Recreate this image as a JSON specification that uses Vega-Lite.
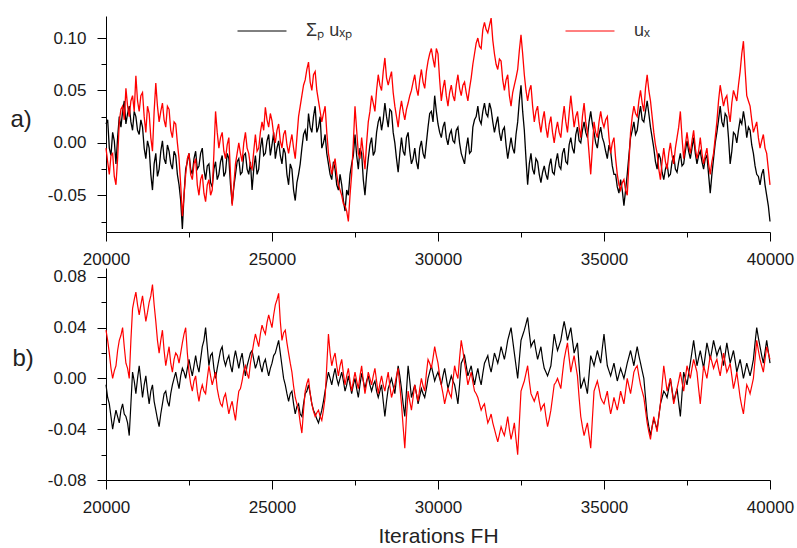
{
"$schema": "https://vega.github.io/schema/vega-lite/v6.json",
"background": "white",
"padding": {"left": 10, "top": 6, "right": 3, "bottom": 2},
"bounds": "flush",
"spacing": 36,
"config": {
  "view": {"stroke": null},
  "font": "Liberation Sans",
  "axis": {"domainColor": "#000000", "tickColor": "#000000", "labelColor": "#1a1a1a", "labelFontSize": 17, "labelFont": "Liberation Sans", "domainWidth": 1, "tickWidth": 1, "grid": false, "titleFont": "Liberation Sans", "titleFontWeight": "normal", "titleColor": "#222222"}
},
"datasets": {
"a": [
{"x":20000,"k":0.018,"r":-0.005},{"x":20100,"k":-0.005,"r":-0.030},{"x":20200,"k":0.010,"r":-0.010},{"x":20300,"k":-0.020,"r":-0.040},{"x":20400,"k":0.025,"r":0.020},{"x":20500,"k":0.030,"r":0.035},{"x":20600,"k":0.018,"r":0.052},{"x":20700,"k":0.035,"r":0.025},{"x":20800,"k":0.012,"r":0.045},{"x":20900,"k":0.025,"r":0.064},
{"x":21000,"k":0.008,"r":0.030},{"x":21100,"k":0.015,"r":0.048},{"x":21200,"k":-0.015,"r":0.010},{"x":21300,"k":-0.005,"r":0.028},{"x":21400,"k":-0.045,"r":-0.008},{"x":21500,"k":-0.010,"r":0.057},{"x":21600,"k":-0.025,"r":0.020},{"x":21700,"k":0.002,"r":0.038},{"x":21800,"k":-0.020,"r":0.015},{"x":21900,"k":-0.008,"r":0.032},
{"x":22000,"k":-0.025,"r":0.005},{"x":22100,"k":-0.012,"r":0.018},{"x":22200,"k":-0.040,"r":-0.015},{"x":22300,"k":-0.082,"r":-0.070},{"x":22400,"k":-0.025,"r":-0.030},{"x":22500,"k":-0.010,"r":-0.010},{"x":22600,"k":-0.030,"r":-0.035},{"x":22700,"k":-0.008,"r":-0.015},{"x":22800,"k":-0.022,"r":-0.050},{"x":22900,"k":-0.005,"r":-0.030},
{"x":23000,"k":-0.035,"r":-0.056},{"x":23100,"k":-0.020,"r":-0.035},{"x":23200,"k":-0.042,"r":-0.045},{"x":23300,"k":-0.018,"r":0.030},{"x":23400,"k":-0.030,"r":-0.005},{"x":23500,"k":-0.012,"r":0.010},{"x":23600,"k":-0.028,"r":-0.015},{"x":23700,"k":-0.015,"r":0.005},{"x":23800,"k":-0.058,"r":-0.060},{"x":23900,"k":-0.030,"r":-0.020},
{"x":24000,"k":-0.015,"r":0.000},{"x":24100,"k":-0.028,"r":-0.018},{"x":24200,"k":-0.010,"r":0.010},{"x":24300,"k":-0.030,"r":-0.010},{"x":24400,"k":-0.045,"r":-0.025},{"x":24500,"k":-0.012,"r":0.008},{"x":24600,"k":-0.025,"r":-0.005},{"x":24700,"k":0.005,"r":0.020},{"x":24800,"k":-0.010,"r":0.034},{"x":24900,"k":0.008,"r":0.015},
{"x":25000,"k":-0.002,"r":0.021},{"x":25100,"k":-0.015,"r":0.000},{"x":25200,"k":0.002,"r":0.018},{"x":25300,"k":-0.020,"r":-0.005},{"x":25400,"k":-0.010,"r":0.012},{"x":25500,"k":-0.040,"r":-0.010},{"x":25600,"k":-0.025,"r":0.008},{"x":25700,"k":-0.055,"r":-0.015},{"x":25800,"k":-0.030,"r":0.025},{"x":25900,"k":-0.005,"r":0.045},
{"x":26000,"k":0.012,"r":0.060},{"x":26100,"k":0.028,"r":0.077},{"x":26200,"k":0.010,"r":0.050},{"x":26300,"k":0.035,"r":0.068},{"x":26400,"k":0.015,"r":0.040},{"x":26500,"k":-0.005,"r":0.020},{"x":26600,"k":0.008,"r":0.035},{"x":26700,"k":-0.020,"r":-0.010},{"x":26800,"k":-0.035,"r":-0.030},{"x":26900,"k":-0.025,"r":-0.015},
{"x":27000,"k":-0.045,"r":-0.040},{"x":27100,"k":-0.040,"r":-0.050},{"x":27200,"k":-0.065,"r":-0.060},{"x":27300,"k":-0.050,"r":-0.075},{"x":27400,"k":-0.020,"r":-0.030},{"x":27500,"k":0.008,"r":0.035},{"x":27600,"k":-0.025,"r":-0.010},{"x":27700,"k":-0.010,"r":0.005},{"x":27800,"k":-0.050,"r":-0.025},{"x":27900,"k":-0.015,"r":0.020},
{"x":28000,"k":0.005,"r":0.045},{"x":28100,"k":-0.008,"r":0.030},{"x":28200,"k":0.020,"r":0.065},{"x":28300,"k":0.012,"r":0.050},{"x":28400,"k":0.038,"r":0.081},{"x":28500,"k":0.015,"r":0.055},{"x":28600,"k":0.030,"r":0.068},{"x":28700,"k":0.000,"r":0.035},{"x":28800,"k":-0.028,"r":0.015},{"x":28900,"k":0.005,"r":0.040},
{"x":29000,"k":-0.012,"r":0.022},{"x":29100,"k":0.010,"r":0.038},{"x":29200,"k":-0.020,"r":0.050},{"x":29300,"k":-0.005,"r":0.065},{"x":29400,"k":-0.025,"r":0.045},{"x":29500,"k":0.002,"r":0.070},{"x":29600,"k":-0.015,"r":0.052},{"x":29700,"k":0.015,"r":0.078},{"x":29800,"k":0.030,"r":0.090},{"x":29900,"k":0.045,"r":0.072},
{"x":30000,"k":0.018,"r":0.085},{"x":30100,"k":0.005,"r":0.040},{"x":30200,"k":0.020,"r":0.060},{"x":30300,"k":-0.002,"r":0.035},{"x":30400,"k":0.012,"r":0.055},{"x":30500,"k":0.000,"r":0.040},{"x":30600,"k":0.015,"r":0.065},{"x":30700,"k":-0.010,"r":0.045},{"x":30800,"k":-0.020,"r":0.058},{"x":30900,"k":0.005,"r":0.040},
{"x":31000,"k":-0.008,"r":0.062},{"x":31100,"k":0.022,"r":0.085},{"x":31200,"k":0.035,"r":0.100},{"x":31300,"k":0.018,"r":0.090},{"x":31400,"k":0.038,"r":0.115},{"x":31500,"k":0.025,"r":0.105},{"x":31600,"k":0.032,"r":0.119},{"x":31700,"k":0.010,"r":0.085},{"x":31800,"k":0.025,"r":0.070},{"x":31900,"k":0.002,"r":0.078},
{"x":32000,"k":0.015,"r":0.050},{"x":32100,"k":-0.015,"r":0.065},{"x":32200,"k":0.005,"r":0.035},{"x":32300,"k":-0.010,"r":0.055},{"x":32400,"k":0.020,"r":0.070},{"x":32500,"k":0.055,"r":0.103},{"x":32600,"k":0.012,"r":0.065},{"x":32700,"k":-0.040,"r":0.040},{"x":32800,"k":-0.010,"r":0.055},{"x":32900,"k":-0.030,"r":0.020},
{"x":33000,"k":-0.018,"r":0.035},{"x":33100,"k":-0.038,"r":0.010},{"x":33200,"k":-0.022,"r":0.030},{"x":33300,"k":-0.035,"r":0.005},{"x":33400,"k":-0.015,"r":0.025},{"x":33500,"k":-0.030,"r":0.000},{"x":33600,"k":-0.010,"r":0.020},{"x":33700,"k":-0.025,"r":0.005},{"x":33800,"k":-0.005,"r":0.035},{"x":33900,"k":-0.020,"r":0.010},
{"x":34000,"k":0.005,"r":0.045},{"x":34100,"k":-0.010,"r":0.015},{"x":34200,"k":0.015,"r":0.030},{"x":34300,"k":0.000,"r":0.005},{"x":34400,"k":0.020,"r":0.038},{"x":34500,"k":0.005,"r":0.010},{"x":34600,"k":0.030,"r":-0.030},{"x":34700,"k":0.010,"r":0.020},{"x":34800,"k":-0.005,"r":0.005},{"x":34900,"k":0.015,"r":0.030},
{"x":35000,"k":0.000,"r":0.015},{"x":35100,"k":-0.015,"r":0.025},{"x":35200,"k":-0.008,"r":-0.010},{"x":35300,"k":-0.030,"r":0.005},{"x":35400,"k":-0.042,"r":-0.030},{"x":35500,"k":-0.035,"r":-0.045},{"x":35600,"k":-0.060,"r":-0.035},{"x":35700,"k":-0.030,"r":-0.050},{"x":35800,"k":0.005,"r":0.010},{"x":35900,"k":0.020,"r":0.035},
{"x":36000,"k":0.012,"r":0.025},{"x":36100,"k":0.035,"r":0.050},{"x":36200,"k":0.020,"r":0.030},{"x":36300,"k":0.040,"r":0.065},{"x":36400,"k":0.015,"r":0.040},{"x":36500,"k":-0.005,"r":0.010},{"x":36600,"k":-0.025,"r":-0.010},{"x":36700,"k":-0.015,"r":-0.035},{"x":36800,"k":-0.035,"r":-0.005},{"x":36900,"k":-0.020,"r":-0.025},
{"x":37000,"k":-0.030,"r":0.000},{"x":37100,"k":-0.012,"r":-0.020},{"x":37200,"k":-0.028,"r":0.005},{"x":37300,"k":-0.010,"r":0.030},{"x":37400,"k":-0.020,"r":-0.015},{"x":37500,"k":0.002,"r":0.010},{"x":37600,"k":-0.015,"r":-0.010},{"x":37700,"k":0.005,"r":0.012},{"x":37800,"k":-0.020,"r":-0.015},{"x":37900,"k":-0.008,"r":0.005},
{"x":38000,"k":-0.025,"r":-0.020},{"x":38100,"k":-0.012,"r":-0.005},{"x":38200,"k":-0.048,"r":-0.030},{"x":38300,"k":-0.015,"r":-0.010},{"x":38400,"k":0.010,"r":0.020},{"x":38500,"k":0.035,"r":0.055},{"x":38600,"k":0.015,"r":0.035},{"x":38700,"k":0.025,"r":0.045},{"x":38800,"k":-0.020,"r":0.020},{"x":38900,"k":0.010,"r":0.050},
{"x":39000,"k":0.000,"r":0.040},{"x":39100,"k":0.022,"r":0.068},{"x":39200,"k":0.030,"r":0.097},{"x":39300,"k":0.005,"r":0.045},{"x":39400,"k":0.012,"r":0.035},{"x":39500,"k":-0.010,"r":0.010},{"x":39600,"k":-0.030,"r":0.020},{"x":39700,"k":-0.040,"r":-0.005},{"x":39800,"k":-0.025,"r":0.008},{"x":39900,"k":-0.050,"r":-0.010},
{"x":40000,"k":-0.075,"r":-0.040},
{"x":20050,"k":0.022,"r":-0.018},{"x":20150,"k":-0.012,"r":-0.012},{"x":20250,"k":0.002,"r":-0.032},{"x":20350,"k":0.005,"r":-0.015},{"x":20450,"k":0.015,"r":0.032},{"x":20550,"k":0.040,"r":0.022},{"x":20650,"k":0.028,"r":0.035},{"x":20750,"k":0.020,"r":0.040},{"x":20850,"k":0.030,"r":0.030},{"x":20950,"k":0.012,"r":0.040},
{"x":21050,"k":0.022,"r":0.045},{"x":21150,"k":-0.005,"r":0.025},{"x":21250,"k":0.002,"r":0.035},{"x":21350,"k":-0.030,"r":0.005},{"x":21450,"k":-0.020,"r":0.030},{"x":21550,"k":-0.032,"r":0.035},{"x":21650,"k":-0.008,"r":0.030},{"x":21750,"k":-0.015,"r":0.022},{"x":21850,"k":-0.002,"r":0.035},{"x":21950,"k":-0.020,"r":0.012},
{"x":22050,"k":-0.008,"r":0.020},{"x":22150,"k":-0.030,"r":0.000},{"x":22250,"k":-0.055,"r":-0.040},{"x":22350,"k":-0.050,"r":-0.050},{"x":22450,"k":-0.018,"r":-0.015},{"x":22550,"k":-0.025,"r":-0.030},{"x":22650,"k":-0.015,"r":-0.020},{"x":22750,"k":-0.025,"r":-0.040},{"x":22850,"k":-0.010,"r":-0.035},{"x":22950,"k":-0.025,"r":-0.048},
{"x":23050,"k":-0.022,"r":-0.040},{"x":23150,"k":-0.038,"r":-0.050},{"x":23250,"k":-0.025,"r":-0.010},{"x":23350,"k":-0.035,"r":0.010},{"x":23450,"k":-0.018,"r":0.005},{"x":23550,"k":-0.032,"r":-0.008},{"x":23650,"k":-0.010,"r":-0.002},{"x":23750,"k":-0.040,"r":-0.030},{"x":23850,"k":-0.042,"r":-0.040},{"x":23950,"k":-0.018,"r":-0.010},
{"x":24050,"k":-0.030,"r":-0.010},{"x":24150,"k":-0.012,"r":0.000},{"x":24250,"k":-0.025,"r":-0.005},{"x":24350,"k":-0.018,"r":-0.022},{"x":24450,"k":-0.025,"r":-0.008},{"x":24550,"k":-0.030,"r":-0.008},{"x":24650,"k":-0.005,"r":0.010},{"x":24750,"k":-0.012,"r":0.012},{"x":24850,"k":0.002,"r":0.022},{"x":24950,"k":-0.012,"r":0.028},
{"x":25050,"k":0.010,"r":0.008},{"x":25150,"k":-0.005,"r":0.012},{"x":25250,"k":-0.012,"r":0.002},{"x":25350,"k":-0.005,"r":0.008},{"x":25450,"k":-0.030,"r":-0.002},{"x":25550,"k":-0.020,"r":0.000},{"x":25650,"k":-0.045,"r":-0.005},{"x":25750,"k":-0.038,"r":0.005},{"x":25850,"k":-0.020,"r":0.035},{"x":25950,"k":0.008,"r":0.055},
{"x":26050,"k":0.002,"r":0.070},{"x":26150,"k":0.015,"r":0.058},{"x":26250,"k":0.025,"r":0.065},{"x":26350,"k":0.010,"r":0.050},{"x":26450,"k":0.025,"r":0.030},{"x":26550,"k":0.000,"r":0.028},{"x":26650,"k":-0.010,"r":0.010},{"x":26750,"k":-0.030,"r":-0.020},{"x":26850,"k":-0.018,"r":-0.022},{"x":26950,"k":-0.040,"r":-0.030},
{"x":27050,"k":-0.030,"r":-0.045},{"x":27150,"k":-0.055,"r":-0.058},{"x":27250,"k":-0.045,"r":-0.065},{"x":27350,"k":-0.030,"r":-0.050},{"x":27450,"k":-0.012,"r":0.000},{"x":27550,"k":-0.012,"r":0.012},{"x":27650,"k":-0.005,"r":-0.015},{"x":27750,"k":-0.035,"r":-0.010},{"x":27850,"k":-0.030,"r":0.000},{"x":27950,"k":-0.002,"r":0.030},
{"x":28050,"k":-0.012,"r":0.038},{"x":28150,"k":0.010,"r":0.050},{"x":28250,"k":0.025,"r":0.055},{"x":28350,"k":0.022,"r":0.068},{"x":28450,"k":0.025,"r":0.062},{"x":28550,"k":0.032,"r":0.062},{"x":28650,"k":0.010,"r":0.048},{"x":28750,"k":-0.015,"r":0.025},{"x":28850,"k":-0.010,"r":0.030},{"x":28950,"k":-0.008,"r":0.030},
{"x":29050,"k":0.005,"r":0.032},{"x":29150,"k":-0.008,"r":0.045},{"x":29250,"k":-0.015,"r":0.058},{"x":29350,"k":-0.018,"r":0.052},{"x":29450,"k":-0.005,"r":0.060},{"x":29550,"k":-0.010,"r":0.058},{"x":29650,"k":0.000,"r":0.068},{"x":29750,"k":0.028,"r":0.085},{"x":29850,"k":0.020,"r":0.080},{"x":29950,"k":0.030,"r":0.090},
{"x":30050,"k":0.010,"r":0.060},{"x":30150,"k":0.015,"r":0.052},{"x":30250,"k":0.005,"r":0.045},{"x":30350,"k":0.008,"r":0.048},{"x":30450,"k":0.002,"r":0.045},{"x":30550,"k":0.012,"r":0.055},{"x":30650,"k":0.000,"r":0.052},{"x":30750,"k":-0.015,"r":0.055},{"x":30850,"k":-0.005,"r":0.048},{"x":30950,"k":-0.010,"r":0.052},
{"x":31050,"k":0.015,"r":0.075},{"x":31150,"k":0.025,"r":0.095},{"x":31250,"k":0.022,"r":0.092},{"x":31350,"k":0.030,"r":0.108},{"x":31450,"k":0.028,"r":0.108},{"x":31550,"k":0.038,"r":0.112},{"x":31650,"k":0.020,"r":0.098},{"x":31750,"k":0.018,"r":0.075},{"x":31850,"k":0.010,"r":0.080},{"x":31950,"k":0.012,"r":0.060},
{"x":32050,"k":-0.002,"r":0.060},{"x":32150,"k":-0.005,"r":0.045},{"x":32250,"k":-0.005,"r":0.048},{"x":32350,"k":0.008,"r":0.062},{"x":32450,"k":0.040,"r":0.088},{"x":32550,"k":0.030,"r":0.085},{"x":32650,"k":-0.015,"r":0.050},{"x":32750,"k":-0.020,"r":0.050},{"x":32850,"k":-0.025,"r":0.035},{"x":32950,"k":-0.015,"r":0.030},
{"x":33050,"k":-0.030,"r":0.020},{"x":33150,"k":-0.028,"r":0.022},{"x":33250,"k":-0.030,"r":0.015},{"x":33350,"k":-0.022,"r":0.018},{"x":33450,"k":-0.028,"r":0.010},{"x":33550,"k":-0.018,"r":0.012},{"x":33650,"k":-0.022,"r":0.010},{"x":33750,"k":-0.010,"r":0.022},{"x":33850,"k":-0.018,"r":0.020},{"x":33950,"k":-0.002,"r":0.028},
{"x":34050,"k":-0.005,"r":0.030},{"x":34150,"k":0.008,"r":0.025},{"x":34250,"k":0.002,"r":0.015},{"x":34350,"k":0.012,"r":0.025},{"x":34450,"k":0.010,"r":0.020},{"x":34550,"k":0.020,"r":-0.010},{"x":34650,"k":0.018,"r":-0.005},{"x":34750,"k":0.000,"r":0.010},{"x":34850,"k":0.008,"r":0.020},{"x":34950,"k":0.005,"r":0.020},
{"x":35050,"k":-0.008,"r":0.022},{"x":35150,"k":-0.002,"r":0.005},{"x":35250,"k":-0.022,"r":0.000},{"x":35350,"k":-0.030,"r":-0.015},{"x":35450,"k":-0.048,"r":-0.040},{"x":35550,"k":-0.045,"r":-0.038},{"x":35650,"k":-0.045,"r":-0.045},{"x":35750,"k":-0.012,"r":-0.020},{"x":35850,"k":0.012,"r":0.025},{"x":35950,"k":0.008,"r":0.028},
{"x":36050,"k":0.025,"r":0.040},{"x":36150,"k":0.022,"r":0.038},{"x":36250,"k":0.030,"r":0.052},{"x":36350,"k":0.028,"r":0.050},{"x":36450,"k":0.005,"r":0.025},{"x":36550,"k":-0.018,"r":-0.002},{"x":36650,"k":-0.010,"r":-0.025},{"x":36750,"k":-0.028,"r":-0.018},{"x":36850,"k":-0.025,"r":-0.018},{"x":36950,"k":-0.032,"r":-0.010},
{"x":37050,"k":-0.018,"r":-0.012},{"x":37150,"k":-0.025,"r":-0.005},{"x":37250,"k":-0.018,"r":0.015},{"x":37350,"k":-0.022,"r":0.005},{"x":37450,"k":-0.008,"r":-0.002},{"x":37550,"k":-0.008,"r":-0.002},{"x":37650,"k":-0.005,"r":0.002},{"x":37750,"k":-0.010,"r":-0.005},{"x":37850,"k":-0.012,"r":-0.008},{"x":37950,"k":-0.018,"r":-0.010},
{"x":38050,"k":-0.015,"r":-0.012},{"x":38150,"k":-0.030,"r":-0.020},{"x":38250,"k":-0.030,"r":-0.018},{"x":38350,"k":0.000,"r":0.005},{"x":38450,"k":0.022,"r":0.040},{"x":38550,"k":0.020,"r":0.045},{"x":38650,"k":0.028,"r":0.042},{"x":38750,"k":0.005,"r":0.030},{"x":38850,"k":-0.008,"r":0.038},{"x":38950,"k":0.008,"r":0.045},
{"x":39050,"k":0.012,"r":0.055},{"x":39150,"k":0.018,"r":0.085},{"x":39250,"k":0.020,"r":0.070},{"x":39350,"k":0.015,"r":0.040},{"x":39450,"k":-0.002,"r":0.022},{"x":39550,"k":-0.022,"r":0.015},{"x":39650,"k":-0.032,"r":0.005},{"x":39750,"k":-0.030,"r":0.002},{"x":39850,"k":-0.040,"r":-0.005},{"x":39950,"k":-0.060,"r":-0.025}
],
"b": [
{"x":20000,"k":-0.005,"r":0.038},{"x":20100,"k":-0.020,"r":0.020},{"x":20200,"k":-0.040,"r":0.000},{"x":20300,"k":-0.025,"r":0.010},{"x":20400,"k":-0.035,"r":0.030},{"x":20500,"k":-0.020,"r":0.040},{"x":20600,"k":-0.030,"r":0.012},{"x":20700,"k":-0.045,"r":0.000},{"x":20800,"k":0.005,"r":0.055},{"x":20900,"k":-0.012,"r":0.068},
{"x":21000,"k":0.010,"r":0.050},{"x":21100,"k":-0.015,"r":0.065},{"x":21200,"k":0.002,"r":0.045},{"x":21300,"k":-0.020,"r":0.060},{"x":21400,"k":-0.005,"r":0.074},{"x":21500,"k":-0.025,"r":0.045},{"x":21600,"k":-0.038,"r":0.020},{"x":21700,"k":-0.020,"r":0.038},{"x":21800,"k":-0.010,"r":0.010},{"x":21900,"k":-0.022,"r":0.025},
{"x":22000,"k":-0.005,"r":0.005},{"x":22100,"k":0.005,"r":0.020},{"x":22200,"k":-0.008,"r":0.012},{"x":22300,"k":0.008,"r":0.028},{"x":22400,"k":0.000,"r":0.040},{"x":22500,"k":0.015,"r":0.005},{"x":22600,"k":0.002,"r":-0.010},{"x":22700,"k":0.018,"r":0.002},{"x":22800,"k":0.005,"r":-0.018},{"x":22900,"k":0.025,"r":-0.005},
{"x":23000,"k":0.040,"r":-0.012},{"x":23100,"k":0.010,"r":0.010},{"x":23200,"k":0.020,"r":-0.005},{"x":23300,"k":0.000,"r":0.005},{"x":23400,"k":0.015,"r":-0.015},{"x":23500,"k":0.025,"r":-0.022},{"x":23600,"k":0.010,"r":-0.012},{"x":23700,"k":0.018,"r":-0.028},{"x":23800,"k":0.005,"r":-0.018},{"x":23900,"k":0.022,"r":-0.033},
{"x":24000,"k":0.008,"r":-0.010},{"x":24100,"k":0.020,"r":-0.002},{"x":24200,"k":0.002,"r":0.010},{"x":24300,"k":0.015,"r":0.000},{"x":24400,"k":0.022,"r":0.020},{"x":24500,"k":0.008,"r":0.035},{"x":24600,"k":0.018,"r":0.025},{"x":24700,"k":0.005,"r":0.042},{"x":24800,"k":0.015,"r":0.035},{"x":24900,"k":0.002,"r":0.050},
{"x":25000,"k":0.012,"r":0.040},{"x":25100,"k":0.020,"r":0.058},{"x":25200,"k":0.030,"r":0.067},{"x":25300,"k":0.010,"r":0.030},{"x":25400,"k":-0.005,"r":0.038},{"x":25500,"k":-0.018,"r":0.020},{"x":25600,"k":-0.010,"r":0.005},{"x":25700,"k":-0.028,"r":-0.015},{"x":25800,"k":-0.020,"r":-0.025},{"x":25900,"k":-0.030,"r":-0.043},
{"x":26000,"k":-0.012,"r":-0.010},{"x":26100,"k":-0.005,"r":0.000},{"x":26200,"k":-0.020,"r":-0.020},{"x":26300,"k":-0.028,"r":-0.030},{"x":26400,"k":-0.035,"r":-0.025},{"x":26500,"k":-0.025,"r":-0.033},{"x":26600,"k":-0.010,"r":-0.015},{"x":26700,"k":0.005,"r":0.035},{"x":26800,"k":-0.005,"r":0.010},{"x":26900,"k":0.008,"r":0.020},
{"x":27000,"k":-0.005,"r":0.002},{"x":27100,"k":0.005,"r":0.015},{"x":27200,"k":-0.010,"r":-0.005},{"x":27300,"k":0.002,"r":0.008},{"x":27400,"k":-0.012,"r":-0.010},{"x":27500,"k":0.000,"r":0.005},{"x":27600,"k":-0.015,"r":-0.008},{"x":27700,"k":0.004,"r":0.010},{"x":27800,"k":-0.008,"r":-0.012},{"x":27900,"k":0.002,"r":0.005},
{"x":28000,"k":-0.010,"r":-0.005},{"x":28100,"k":-0.002,"r":0.008},{"x":28200,"k":-0.015,"r":-0.012},{"x":28300,"k":-0.005,"r":0.002},{"x":28400,"k":-0.030,"r":-0.010},{"x":28500,"k":-0.008,"r":0.005},{"x":28600,"k":0.000,"r":-0.015},{"x":28700,"k":-0.012,"r":-0.005},{"x":28800,"k":0.010,"r":0.008},{"x":28900,"k":-0.008,"r":-0.020},
{"x":29000,"k":-0.030,"r":-0.055},{"x":29100,"k":0.010,"r":-0.010},{"x":29200,"k":-0.015,"r":-0.025},{"x":29300,"k":-0.005,"r":-0.005},{"x":29400,"k":-0.020,"r":-0.018},{"x":29500,"k":-0.008,"r":0.000},{"x":29600,"k":-0.015,"r":-0.010},{"x":29700,"k":0.000,"r":0.015},{"x":29800,"k":0.010,"r":0.008},{"x":29900,"k":-0.002,"r":0.025},
{"x":30000,"k":0.005,"r":0.012},{"x":30100,"k":-0.005,"r":-0.005},{"x":30200,"k":0.008,"r":-0.020},{"x":30300,"k":-0.008,"r":-0.008},{"x":30400,"k":0.002,"r":-0.015},{"x":30500,"k":-0.005,"r":0.010},{"x":30600,"k":-0.020,"r":0.000},{"x":30700,"k":0.012,"r":0.030},{"x":30800,"k":0.018,"r":0.012},{"x":30900,"k":0.002,"r":-0.005},
{"x":31000,"k":0.010,"r":0.005},{"x":31100,"k":-0.005,"r":-0.010},{"x":31200,"k":0.008,"r":-0.015},{"x":31300,"k":-0.005,"r":-0.025},{"x":31400,"k":0.012,"r":-0.020},{"x":31500,"k":0.018,"r":-0.035},{"x":31600,"k":0.005,"r":-0.028},{"x":31700,"k":0.020,"r":-0.040},{"x":31800,"k":0.012,"r":-0.050},{"x":31900,"k":0.025,"r":-0.038},
{"x":32000,"k":0.015,"r":-0.045},{"x":32100,"k":0.030,"r":-0.030},{"x":32200,"k":0.040,"r":-0.048},{"x":32300,"k":0.020,"r":-0.035},{"x":32400,"k":0.000,"r":-0.060},{"x":32500,"k":0.030,"r":-0.010},{"x":32600,"k":0.038,"r":-0.002},{"x":32700,"k":0.048,"r":0.010},{"x":32800,"k":0.025,"r":-0.012},{"x":32900,"k":0.030,"r":-0.018},
{"x":33000,"k":0.015,"r":-0.010},{"x":33100,"k":0.025,"r":-0.025},{"x":33200,"k":0.008,"r":-0.020},{"x":33300,"k":0.002,"r":-0.038},{"x":33400,"k":0.010,"r":-0.025},{"x":33500,"k":0.035,"r":-0.005},{"x":33600,"k":0.022,"r":0.000},{"x":33700,"k":0.030,"r":-0.008},{"x":33800,"k":0.045,"r":0.015},{"x":33900,"k":0.030,"r":0.028},
{"x":34000,"k":0.040,"r":0.005},{"x":34100,"k":0.020,"r":0.018},{"x":34200,"k":0.028,"r":0.002},{"x":34300,"k":-0.008,"r":-0.030},{"x":34400,"k":0.000,"r":-0.045},{"x":34500,"k":-0.012,"r":-0.035},{"x":34600,"k":0.018,"r":-0.055},{"x":34700,"k":0.010,"r":-0.010},{"x":34800,"k":0.022,"r":-0.002},{"x":34900,"k":0.012,"r":-0.015},
{"x":35000,"k":0.035,"r":-0.020},{"x":35100,"k":0.010,"r":-0.010},{"x":35200,"k":0.002,"r":-0.028},{"x":35300,"k":0.012,"r":-0.015},{"x":35400,"k":-0.002,"r":-0.025},{"x":35500,"k":0.008,"r":-0.010},{"x":35600,"k":0.000,"r":-0.020},{"x":35700,"k":0.012,"r":0.000},{"x":35800,"k":0.022,"r":-0.012},{"x":35900,"k":0.010,"r":0.005},
{"x":36000,"k":0.025,"r":0.010},{"x":36100,"k":0.012,"r":-0.005},{"x":36200,"k":0.000,"r":-0.015},{"x":36300,"k":-0.030,"r":-0.035},{"x":36400,"k":-0.045,"r":-0.048},{"x":36500,"k":-0.032,"r":-0.030},{"x":36600,"k":-0.040,"r":-0.042},{"x":36700,"k":-0.020,"r":-0.020},{"x":36800,"k":-0.010,"r":0.010},{"x":36900,"k":-0.015,"r":-0.010},
{"x":37000,"k":0.000,"r":0.000},{"x":37100,"k":-0.018,"r":-0.020},{"x":37200,"k":-0.008,"r":-0.008},{"x":37300,"k":-0.030,"r":0.005},{"x":37400,"k":0.005,"r":-0.010},{"x":37500,"k":-0.005,"r":0.010},{"x":37600,"k":0.012,"r":0.000},{"x":37700,"k":0.030,"r":0.015},{"x":37800,"k":0.010,"r":0.005},{"x":37900,"k":0.022,"r":-0.020},
{"x":38000,"k":0.008,"r":0.010},{"x":38100,"k":0.028,"r":0.000},{"x":38200,"k":0.015,"r":0.018},{"x":38300,"k":0.030,"r":0.008},{"x":38400,"k":0.018,"r":0.015},{"x":38500,"k":0.025,"r":0.002},{"x":38600,"k":0.010,"r":0.020},{"x":38700,"k":0.028,"r":0.005},{"x":38800,"k":0.012,"r":0.012},{"x":38900,"k":0.022,"r":-0.008},
{"x":39000,"k":0.005,"r":0.005},{"x":39100,"k":0.015,"r":-0.015},{"x":39200,"k":0.000,"r":-0.028},{"x":39300,"k":0.012,"r":-0.005},{"x":39400,"k":0.002,"r":-0.012},{"x":39500,"k":0.015,"r":0.000},{"x":39600,"k":0.040,"r":0.030},{"x":39700,"k":0.025,"r":0.015},{"x":39800,"k":0.012,"r":0.005},{"x":39900,"k":0.030,"r":0.025},
{"x":40000,"k":0.012,"r":0.015},
{"x":20050,"k":-0.015,"r":0.030},{"x":20150,"k":-0.030,"r":0.008},{"x":20250,"k":-0.032,"r":0.006},{"x":20350,"k":-0.030,"r":0.022},{"x":20450,"k":-0.025,"r":0.034},{"x":20550,"k":-0.028,"r":0.025},{"x":20650,"k":-0.035,"r":0.008},{"x":20750,"k":-0.020,"r":0.030},{"x":20850,"k":-0.002,"r":0.062},{"x":20950,"k":0.000,"r":0.058},
{"x":21050,"k":-0.002,"r":0.058},{"x":21150,"k":-0.005,"r":0.055},{"x":21250,"k":-0.010,"r":0.052},{"x":21350,"k":-0.010,"r":0.065},{"x":21450,"k":-0.018,"r":0.058},{"x":21550,"k":-0.032,"r":0.030},{"x":21650,"k":-0.028,"r":0.030},{"x":21750,"k":-0.012,"r":0.022},{"x":21850,"k":-0.018,"r":0.018},{"x":21950,"k":-0.012,"r":0.012},
{"x":22050,"k":0.000,"r":0.015},{"x":22150,"k":-0.002,"r":0.018},{"x":22250,"k":0.002,"r":0.020},{"x":22350,"k":0.005,"r":0.035},{"x":22450,"k":0.008,"r":0.020},{"x":22550,"k":0.008,"r":-0.004},{"x":22650,"k":0.010,"r":-0.002},{"x":22750,"k":0.010,"r":-0.010},{"x":22850,"k":0.015,"r":-0.010},{"x":22950,"k":0.030,"r":-0.010},
{"x":23050,"k":0.025,"r":0.000},{"x":23150,"k":0.018,"r":0.002},{"x":23250,"k":0.008,"r":0.000},{"x":23350,"k":0.008,"r":-0.008},{"x":23450,"k":0.022,"r":-0.020},{"x":23550,"k":0.015,"r":-0.015},{"x":23650,"k":0.015,"r":-0.020},{"x":23750,"k":0.010,"r":-0.022},{"x":23850,"k":0.015,"r":-0.026},{"x":23950,"k":0.015,"r":-0.020},
{"x":24050,"k":0.015,"r":-0.008},{"x":24150,"k":0.010,"r":0.006},{"x":24250,"k":0.010,"r":0.004},{"x":24350,"k":0.020,"r":0.012},{"x":24450,"k":0.015,"r":0.028},{"x":24550,"k":0.012,"r":0.030},{"x":24650,"k":0.010,"r":0.035},{"x":24750,"k":0.012,"r":0.038},{"x":24850,"k":0.008,"r":0.044},{"x":24950,"k":0.008,"r":0.045},
{"x":25050,"k":0.018,"r":0.050},{"x":25150,"k":0.025,"r":0.062},{"x":25250,"k":0.020,"r":0.045},{"x":25350,"k":0.000,"r":0.036},{"x":25450,"k":-0.012,"r":0.028},{"x":25550,"k":-0.012,"r":0.012},{"x":25650,"k":-0.020,"r":-0.006},{"x":25750,"k":-0.022,"r":-0.020},{"x":25850,"k":-0.028,"r":-0.035},{"x":25950,"k":-0.020,"r":-0.025},
{"x":26050,"k":-0.010,"r":-0.004},{"x":26150,"k":-0.012,"r":-0.012},{"x":26250,"k":-0.025,"r":-0.026},{"x":26350,"k":-0.032,"r":-0.027},{"x":26450,"k":-0.030,"r":-0.030},{"x":26550,"k":-0.018,"r":-0.025},{"x":26650,"k":-0.002,"r":0.010},{"x":26750,"k":0.000,"r":0.020},{"x":26850,"k":0.002,"r":0.016},{"x":26950,"k":0.000,"r":0.010},
{"x":27050,"k":0.000,"r":0.010},{"x":27150,"k":-0.002,"r":0.004},{"x":27250,"k":-0.005,"r":0.002},{"x":27350,"k":-0.005,"r":-0.002},{"x":27450,"k":-0.005,"r":-0.002},{"x":27550,"k":-0.008,"r":-0.002},{"x":27650,"k":-0.005,"r":0.002},{"x":27750,"k":-0.002,"r":-0.002},{"x":27850,"k":-0.002,"r":-0.004},{"x":27950,"k":-0.005,"r":0.000},
{"x":28050,"k":-0.005,"r":0.002},{"x":28150,"k":-0.010,"r":-0.002},{"x":28250,"k":-0.010,"r":-0.004},{"x":28350,"k":-0.018,"r":-0.005},{"x":28450,"k":-0.018,"r":-0.002},{"x":28550,"k":-0.004,"r":-0.006},{"x":28650,"k":-0.006,"r":-0.010},{"x":28750,"k":0.000,"r":0.002},{"x":28850,"k":0.002,"r":-0.006},{"x":28950,"k":-0.020,"r":-0.038},
{"x":29050,"k":-0.010,"r":-0.030},{"x":29150,"k":-0.002,"r":-0.018},{"x":29250,"k":-0.010,"r":-0.015},{"x":29350,"k":-0.012,"r":-0.012},{"x":29450,"k":-0.014,"r":-0.008},{"x":29550,"k":-0.012,"r":-0.006},{"x":29650,"k":-0.008,"r":0.004},{"x":29750,"k":0.005,"r":0.012},{"x":29850,"k":0.004,"r":0.016},{"x":29950,"k":0.002,"r":0.018},
{"x":30050,"k":0.000,"r":0.002},{"x":30150,"k":0.002,"r":-0.012},{"x":30250,"k":0.000,"r":-0.014},{"x":30350,"k":-0.003,"r":-0.012},{"x":30450,"k":-0.002,"r":-0.002},{"x":30550,"k":-0.012,"r":0.004},{"x":30650,"k":-0.005,"r":0.016},{"x":30750,"k":0.015,"r":0.022},{"x":30850,"k":0.010,"r":0.004},{"x":30950,"k":0.006,"r":0.000},
{"x":31050,"k":0.002,"r":-0.003},{"x":31150,"k":0.002,"r":-0.012},{"x":31250,"k":0.000,"r":-0.020},{"x":31350,"k":0.004,"r":-0.022},{"x":31450,"k":0.015,"r":-0.028},{"x":31550,"k":0.010,"r":-0.032},{"x":31650,"k":0.012,"r":-0.035},{"x":31750,"k":0.016,"r":-0.045},{"x":31850,"k":0.018,"r":-0.044},{"x":31950,"k":0.020,"r":-0.042},
{"x":32050,"k":0.022,"r":-0.038},{"x":32150,"k":0.035,"r":-0.040},{"x":32250,"k":0.030,"r":-0.042},{"x":32350,"k":0.010,"r":-0.048},{"x":32450,"k":0.015,"r":-0.035},{"x":32550,"k":0.034,"r":-0.006},{"x":32650,"k":0.043,"r":0.004},{"x":32750,"k":0.036,"r":-0.002},{"x":32850,"k":0.028,"r":-0.015},{"x":32950,"k":0.022,"r":-0.014},
{"x":33050,"k":0.020,"r":-0.018},{"x":33150,"k":0.015,"r":-0.022},{"x":33250,"k":0.005,"r":-0.030},{"x":33350,"k":0.006,"r":-0.032},{"x":33450,"k":0.022,"r":-0.015},{"x":33550,"k":0.028,"r":-0.003},{"x":33650,"k":0.026,"r":-0.004},{"x":33750,"k":0.038,"r":0.004},{"x":33850,"k":0.038,"r":0.022},{"x":33950,"k":0.035,"r":0.016},
{"x":34050,"k":0.030,"r":0.012},{"x":34150,"k":0.024,"r":0.010},{"x":34250,"k":0.010,"r":-0.015},{"x":34350,"k":-0.004,"r":-0.038},{"x":34450,"k":-0.006,"r":-0.040},{"x":34550,"k":0.003,"r":-0.045},{"x":34650,"k":0.014,"r":-0.032},{"x":34750,"k":0.016,"r":-0.006},{"x":34850,"k":0.017,"r":-0.008},{"x":34950,"k":0.024,"r":-0.018},
{"x":35050,"k":0.022,"r":-0.015},{"x":35150,"k":0.006,"r":-0.020},{"x":35250,"k":0.007,"r":-0.022},{"x":35350,"k":0.005,"r":-0.020},{"x":35450,"k":0.003,"r":-0.018},{"x":35550,"k":0.004,"r":-0.015},{"x":35650,"k":0.006,"r":-0.010},{"x":35750,"k":0.017,"r":-0.006},{"x":35850,"k":0.016,"r":-0.004},{"x":35950,"k":0.018,"r":0.008},
{"x":36050,"k":0.018,"r":0.002},{"x":36150,"k":0.006,"r":-0.010},{"x":36250,"k":-0.015,"r":-0.025},{"x":36350,"k":-0.038,"r":-0.042},{"x":36450,"k":-0.038,"r":-0.038},{"x":36550,"k":-0.036,"r":-0.036},{"x":36650,"k":-0.030,"r":-0.030},{"x":36750,"k":-0.015,"r":-0.005},{"x":36850,"k":-0.012,"r":0.000},{"x":36950,"k":-0.008,"r":-0.005},
{"x":37050,"k":-0.009,"r":-0.010},{"x":37150,"k":-0.013,"r":-0.014},{"x":37250,"k":-0.019,"r":-0.002},{"x":37350,"k":-0.012,"r":-0.003},{"x":37450,"k":0.000,"r":0.000},{"x":37550,"k":0.004,"r":0.005},{"x":37650,"k":0.021,"r":0.008},{"x":37750,"k":0.020,"r":0.010},{"x":37850,"k":0.016,"r":-0.008},{"x":37950,"k":0.015,"r":-0.005},
{"x":38050,"k":0.018,"r":0.005},{"x":38150,"k":0.022,"r":0.009},{"x":38250,"k":0.022,"r":0.013},{"x":38350,"k":0.024,"r":0.012},{"x":38450,"k":0.022,"r":0.008},{"x":38550,"k":0.018,"r":0.011},{"x":38650,"k":0.019,"r":0.012},{"x":38750,"k":0.020,"r":0.008},{"x":38850,"k":0.017,"r":0.002},{"x":38950,"k":0.014,"r":-0.002},
{"x":39050,"k":0.010,"r":-0.005},{"x":39150,"k":0.008,"r":-0.022},{"x":39250,"k":0.006,"r":-0.016},{"x":39350,"k":0.007,"r":-0.008},{"x":39450,"k":0.008,"r":-0.006},{"x":39550,"k":0.028,"r":0.015},{"x":39650,"k":0.032,"r":0.022},{"x":39750,"k":0.018,"r":0.010},{"x":39850,"k":0.021,"r":0.015},{"x":39950,"k":0.021,"r":0.020}
]
},
"vconcat": [
{
  "width": 664, "height": 216,
  "data": {"name": "a"},
  "transform": [{"fold": ["k", "r"], "as": ["s", "v"]}],
  "mark": {"type": "line", "strokeWidth": 1.3},
  "encoding": {
    "x": {"field": "x", "type": "quantitative", "scale": {"domain": [20000, 40000], "nice": false},
      "axis": {"title": null, "values": [20000,22500,25000,27500,30000,32500,35000,37500,40000], "format": "d", "labelExpr": "datum.value % 5000 == 0 ? datum.label : ''", "tickSize": {"condition": {"test": "datum.value % 5000 == 0", "value": 9}, "value": 5}, "labelPadding": 10, "labelFlush": false}},
    "y": {"field": "v", "type": "quantitative", "scale": {"domain": [-0.085, 0.121], "nice": false, "zero": false},
      "axis": {"title": "a)", "titleAngle": 0, "titleFontSize": 24, "titleAlign": "left", "titleBaseline": "middle", "titleX": -96, "titleY": 103,
        "values": [-0.075,-0.05,-0.025,0,0.025,0.05,0.075,0.1], "format": ".2f",
        "labelExpr": "abs(datum.value*20 - round(datum.value*20)) < 0.01 ? replace(datum.label, '\u2212', '-') : ''",
        "tickSize": {"condition": {"test": "abs(datum.value*20 - round(datum.value*20)) < 0.01", "value": 9}, "value": 5}, "labelPadding": 11}},
    "color": {"field": "s", "type": "nominal", "scale": {"domain": ["k", "r"], "range": ["#000000", "#ff0000"]},
      "legend": {"orient": "none", "legendX": 131, "legendY": -10, "direction": "horizontal", "columns": 2, "title": null, "padding": 0, "symbolType": "stroke", "symbolSize": 2400, "symbolStrokeWidth": 1, "labelFontSize": 18, "labelFont": "Liberation Sans", "labelColor": "#333333", "labelOffset": 19, "columnPadding": 210, "labelExpr": "datum.label == 'k' ? 'Σₚ uₓₚ' : 'uₓ'"}}
  }
},
{
  "width": 664, "height": 212,
  "data": {"name": "b"},
  "transform": [{"fold": ["k", "r"], "as": ["s", "v"]}],
  "mark": {"type": "line", "strokeWidth": 1.2},
  "encoding": {
    "x": {"field": "x", "type": "quantitative", "scale": {"domain": [20000, 40000], "nice": false},
      "axis": {"title": "Iterations FH", "titleFontSize": 21, "titlePadding": 10, "values": [20000,22500,25000,27500,30000,32500,35000,37500,40000], "format": "d", "labelExpr": "datum.value % 5000 == 0 ? datum.label : ''", "tickSize": {"condition": {"test": "datum.value % 5000 == 0", "value": 9}, "value": 5}, "labelPadding": 10, "labelFlush": false}},
    "y": {"field": "v", "type": "quantitative", "scale": {"domain": [-0.08, 0.087], "nice": false, "zero": false},
      "axis": {"title": "b)", "titleAngle": 0, "titleFontSize": 24, "titleAlign": "left", "titleBaseline": "middle", "titleX": -94, "titleY": 90,
        "values": [-0.08,-0.06,-0.04,-0.02,0,0.02,0.04,0.06,0.08], "format": ".2f",
        "labelExpr": "abs(datum.value*25 - round(datum.value*25)) < 0.01 ? replace(datum.label, '\u2212', '-') : ''",
        "tickSize": {"condition": {"test": "abs(datum.value*25 - round(datum.value*25)) < 0.01", "value": 9}, "value": 5}, "labelPadding": 11}},
    "color": {"field": "s", "type": "nominal", "scale": {"domain": ["k", "r"], "range": ["#000000", "#ff0000"]},
      "legend": {"orient": "none", "legendX": 131, "legendY": -10, "direction": "horizontal", "columns": 2, "title": null, "padding": 0, "symbolType": "stroke", "symbolSize": 2400, "symbolStrokeWidth": 1, "labelFontSize": 18, "labelFont": "Liberation Sans", "labelColor": "#333333", "labelOffset": 19, "columnPadding": 210, "labelExpr": "datum.label == 'k' ? 'Σₚ uₓₚ' : 'uₓ'"}}
  }
}
]
}
